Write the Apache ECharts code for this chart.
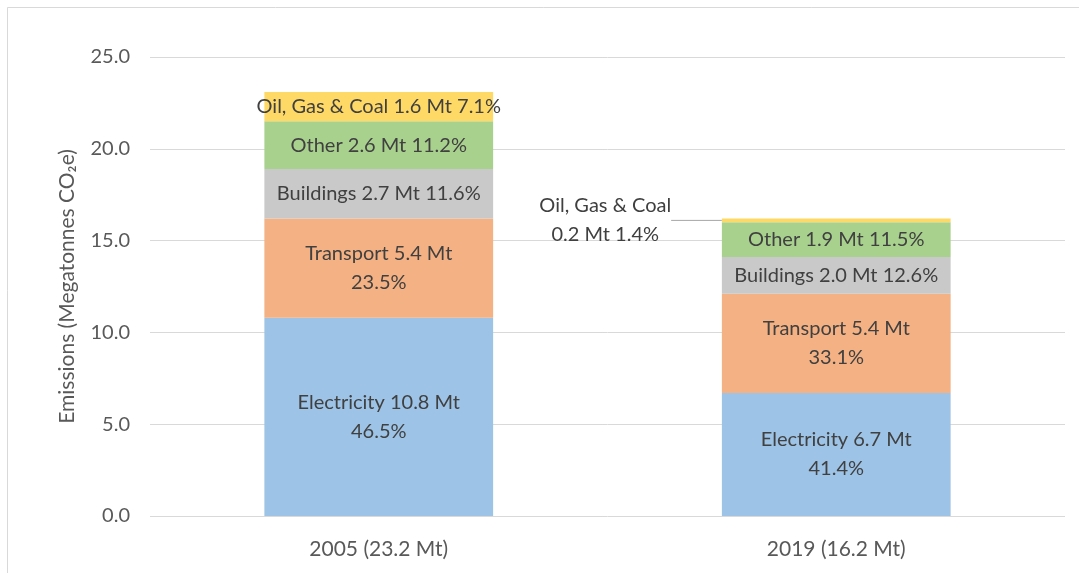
<!DOCTYPE html>
<html>
<head>
<meta charset="UTF-8"/>
<title>Emissions</title>
<script src="https://cdn.jsdelivr.net/npm/echarts@6/dist/echarts.min.js"></script>
<style>
html,body{margin:0;padding:0;background:#fff;}
#main{width:1079px;height:573px;}
</style>
</head>
<body>
<div id="main"></div>
<script>
// categories and values (Mt CO2e)
var years = ['2005 (23.2 Mt)', '2019 (16.2 Mt)'];
var names = ['Electricity', 'Transport', 'Buildings', 'Other', 'Oil, Gas & Coal'];
var electricity = [10.8, 6.7];
var transport = [5.4, 5.4];
var buildings = [2.7, 2.0];
var other = [2.6, 1.9];
var oilGasCoal = [1.6, 0.2];
var electricityPct = ['46.5%', '41.4%'];
var transportPct = ['23.5%', '33.1%'];
var buildingsPct = ['11.6%', '12.6%'];
var otherPct = ['11.2%', '11.5%'];
var oilGasCoalPct = ['7.1%', '1.4%'];
var yTicks = [0, 5, 10, 15, 20, 25];

var colors = ['#9DC3E6', '#F4B183', '#C9C9C9', '#A9D18E', '#FFD966'];
var fontFam = 'Lato, "Open Sans", sans-serif';

function makeSeries(name, values, pcts, color, twoLine) {
  return {
    name: name,
    type: 'bar',
    stack: 'total',
    barWidth: '50%',
    data: values,
    itemStyle: { color: color },
    label: {
      show: true,
      position: 'inside',
      color: '#404040',
      fontSize: 20,
      fontFamily: fontFam,
      lineHeight: 29,
      formatter: function (p) {
        var sep = twoLine[p.dataIndex] ? '\n' : ' ';
        return name + ' ' + p.value.toFixed(1) + ' Mt' + sep + pcts[p.dataIndex];
      }
    }
  };
}

var series = [
  makeSeries(names[0], electricity, electricityPct, colors[0], [true, true]),
  makeSeries(names[1], transport, transportPct, colors[1], [true, true]),
  makeSeries(names[2], buildings, buildingsPct, colors[2], [false, false]),
  makeSeries(names[3], other, otherPct, colors[3], [false, false]),
  makeSeries(names[4], oilGasCoal, oilGasCoalPct, colors[4], [false, false])
];
// 2019 oil label sits to the left with a leader line
var oil = series[4];
oil.label.formatter = function (p) {
  if (p.dataIndex === 1) {
    return names[4] + '\n' + p.value.toFixed(1) + ' Mt ' + oilGasCoalPct[1];
  }
  return names[4] + ' ' + p.value.toFixed(1) + ' Mt ' + oilGasCoalPct[0];
};
oil.labelLayout = function (p) {
  if (p.dataIndex === 1) {
    return { dx: -231, dy: 0 };
  }
  return {};
};
oil.labelLine = { show: true, lineStyle: { color: '#A6A6A6', width: 1 } };

var myChart = echarts.init(document.getElementById('main'));
var option = {
  animation: false,
  backgroundColor: '#fff',
  graphic: [{
    type: 'rect',
    shape: { x: 7.5, y: 7.5, width: 1090, height: 600 },
    style: { fill: 'none', stroke: '#D9D9D9', lineWidth: 1 },
    silent: true
  }],
  grid: { left: 150, right: 14, top: 57, bottom: 57 },
  xAxis: {
    type: 'category',
    data: years,
    axisLine: { show: false },
    axisTick: { show: false },
    axisLabel: { color: '#595959', fontSize: 21, fontFamily: fontFam, margin: 23 }
  },
  yAxis: {
    type: 'value',
    min: yTicks[0],
    max: yTicks[yTicks.length - 1],
    interval: 5,
    name: 'Emissions (Megatonnes CO\u2082e)',
    nameLocation: 'middle',
    nameGap: 72,
    nameTextStyle: { color: '#595959', fontSize: 21, fontFamily: fontFam },
    axisLabel: {
      color: '#595959', fontSize: 20, fontFamily: fontFam, margin: 20,
      formatter: function (v) { return v.toFixed(1); }
    },
    splitLine: { lineStyle: { color: '#D9D9D9', width: 1 } }
  },
  series: series
};
myChart.setOption(option);
</script>
</body>
</html>
